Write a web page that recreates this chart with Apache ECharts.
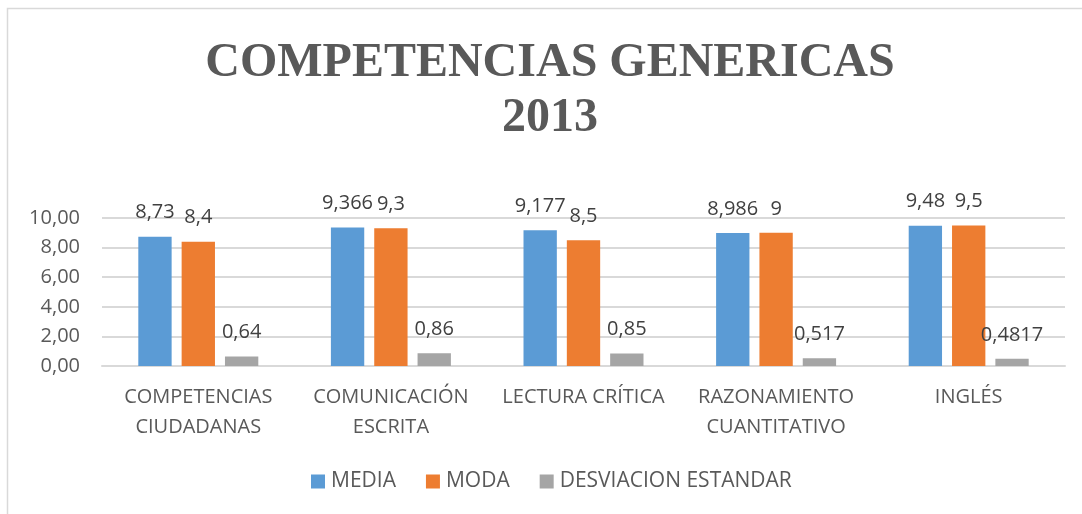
<!DOCTYPE html>
<html>
<head>
<meta charset="utf-8">
<title>Competencias genericas 2013</title>
<script src="https://cdn.jsdelivr.net/npm/echarts@6/dist/echarts.min.js"></script>
<style>
  html, body { margin: 0; padding: 0; background: #fff; }
  #chart { width: 1082px; height: 514px; }
</style>
</head>
<body>
<div id="chart"></div>
<script>
// datos
const categorias = [
  "COMPETENCIAS\nCIUDADANAS",
  "COMUNICACIÓN\nESCRITA",
  "LECTURA CRÍTICA",
  "RAZONAMIENTO\nCUANTITATIVO",
  "INGLÉS"
];
const media = [8.73, 9.366, 9.177, 8.986, 9.48];
const moda = [8.4, 9.3, 8.5, 9, 9.5];
const desviacion = [0.64, 0.86, 0.85, 0.517, 0.4817];

const fuente = "'Open Sans', 'Noto Sans', sans-serif";
const coma = v => String(v).replace(".", ",");

const chart = echarts.init(document.getElementById("chart"));

function serie(nombre, datos, color) {
  return {
    name: nombre,
    type: "bar",
    data: datos,
    barGap: "30%",
    barCategoryGap: "37.7%",
    itemStyle: { color: color },
    label: {
      show: true,
      position: "top",
      distance: 14,
      color: "#404040",
      fontFamily: fuente,
      fontSize: 20,
      formatter: p => coma(p.value)
    }
  };
}

chart.setOption({
  animation: false,
  title: {
    text: "COMPETENCIAS GENERICAS\n2013",
    left: 545,
    top: 31,
    textAlign: "center",
    textStyle: {
      fontFamily: "'Liberation Serif', 'Times New Roman', serif",
      fontWeight: "bold",
      fontSize: 48,
      lineHeight: 55,
      color: "#595959",
      align: "center"
    }
  },
  // marco del grafico (solo arriba e izquierda)
  graphic: [{
    type: "polyline",
    silent: true,
    shape: { points: [[7.5, 514], [7.5, 8.5], [1082, 8.5]] },
    style: { stroke: "#d9d9d9", lineWidth: 1.5, fill: null }
  }],
  legend: {
    bottom: 17,
    left: 306,
    itemWidth: 14,
    itemHeight: 14,
    itemGap: 30,
    icon: "rect",
    textStyle: { color: "#595959", fontFamily: fuente, fontSize: 21, padding: [0, 0, 0, 1] }
  },
  grid: { left: 102, right: 17, top: 218, bottom: 148 },
  xAxis: {
    type: "category",
    data: categorias,
    axisLine: { lineStyle: { color: "#d9d9d9", width: 2 } },
    axisTick: { show: false },
    axisLabel: {
      interval: 0,
      margin: 17,
      color: "#595959",
      fontFamily: fuente,
      fontSize: 20,
      lineHeight: 29.5
    }
  },
  yAxis: {
    type: "value",
    min: 0,
    max: 10,
    interval: 2,
    axisLine: { show: false },
    axisTick: { show: false },
    splitLine: { lineStyle: { color: "#d9d9d9", width: 2 } },
    axisLabel: {
      margin: 22,
      color: "#595959",
      fontFamily: fuente,
      fontSize: 20,
      formatter: v => v.toFixed(2).replace(".", ",")
    }
  },
  series: [
    serie("MEDIA", media, "#5B9BD5"),
    serie("MODA", moda, "#ED7D31"),
    serie("DESVIACION ESTANDAR", desviacion, "#A5A5A5")
  ]
});
</script>
</body>
</html>
